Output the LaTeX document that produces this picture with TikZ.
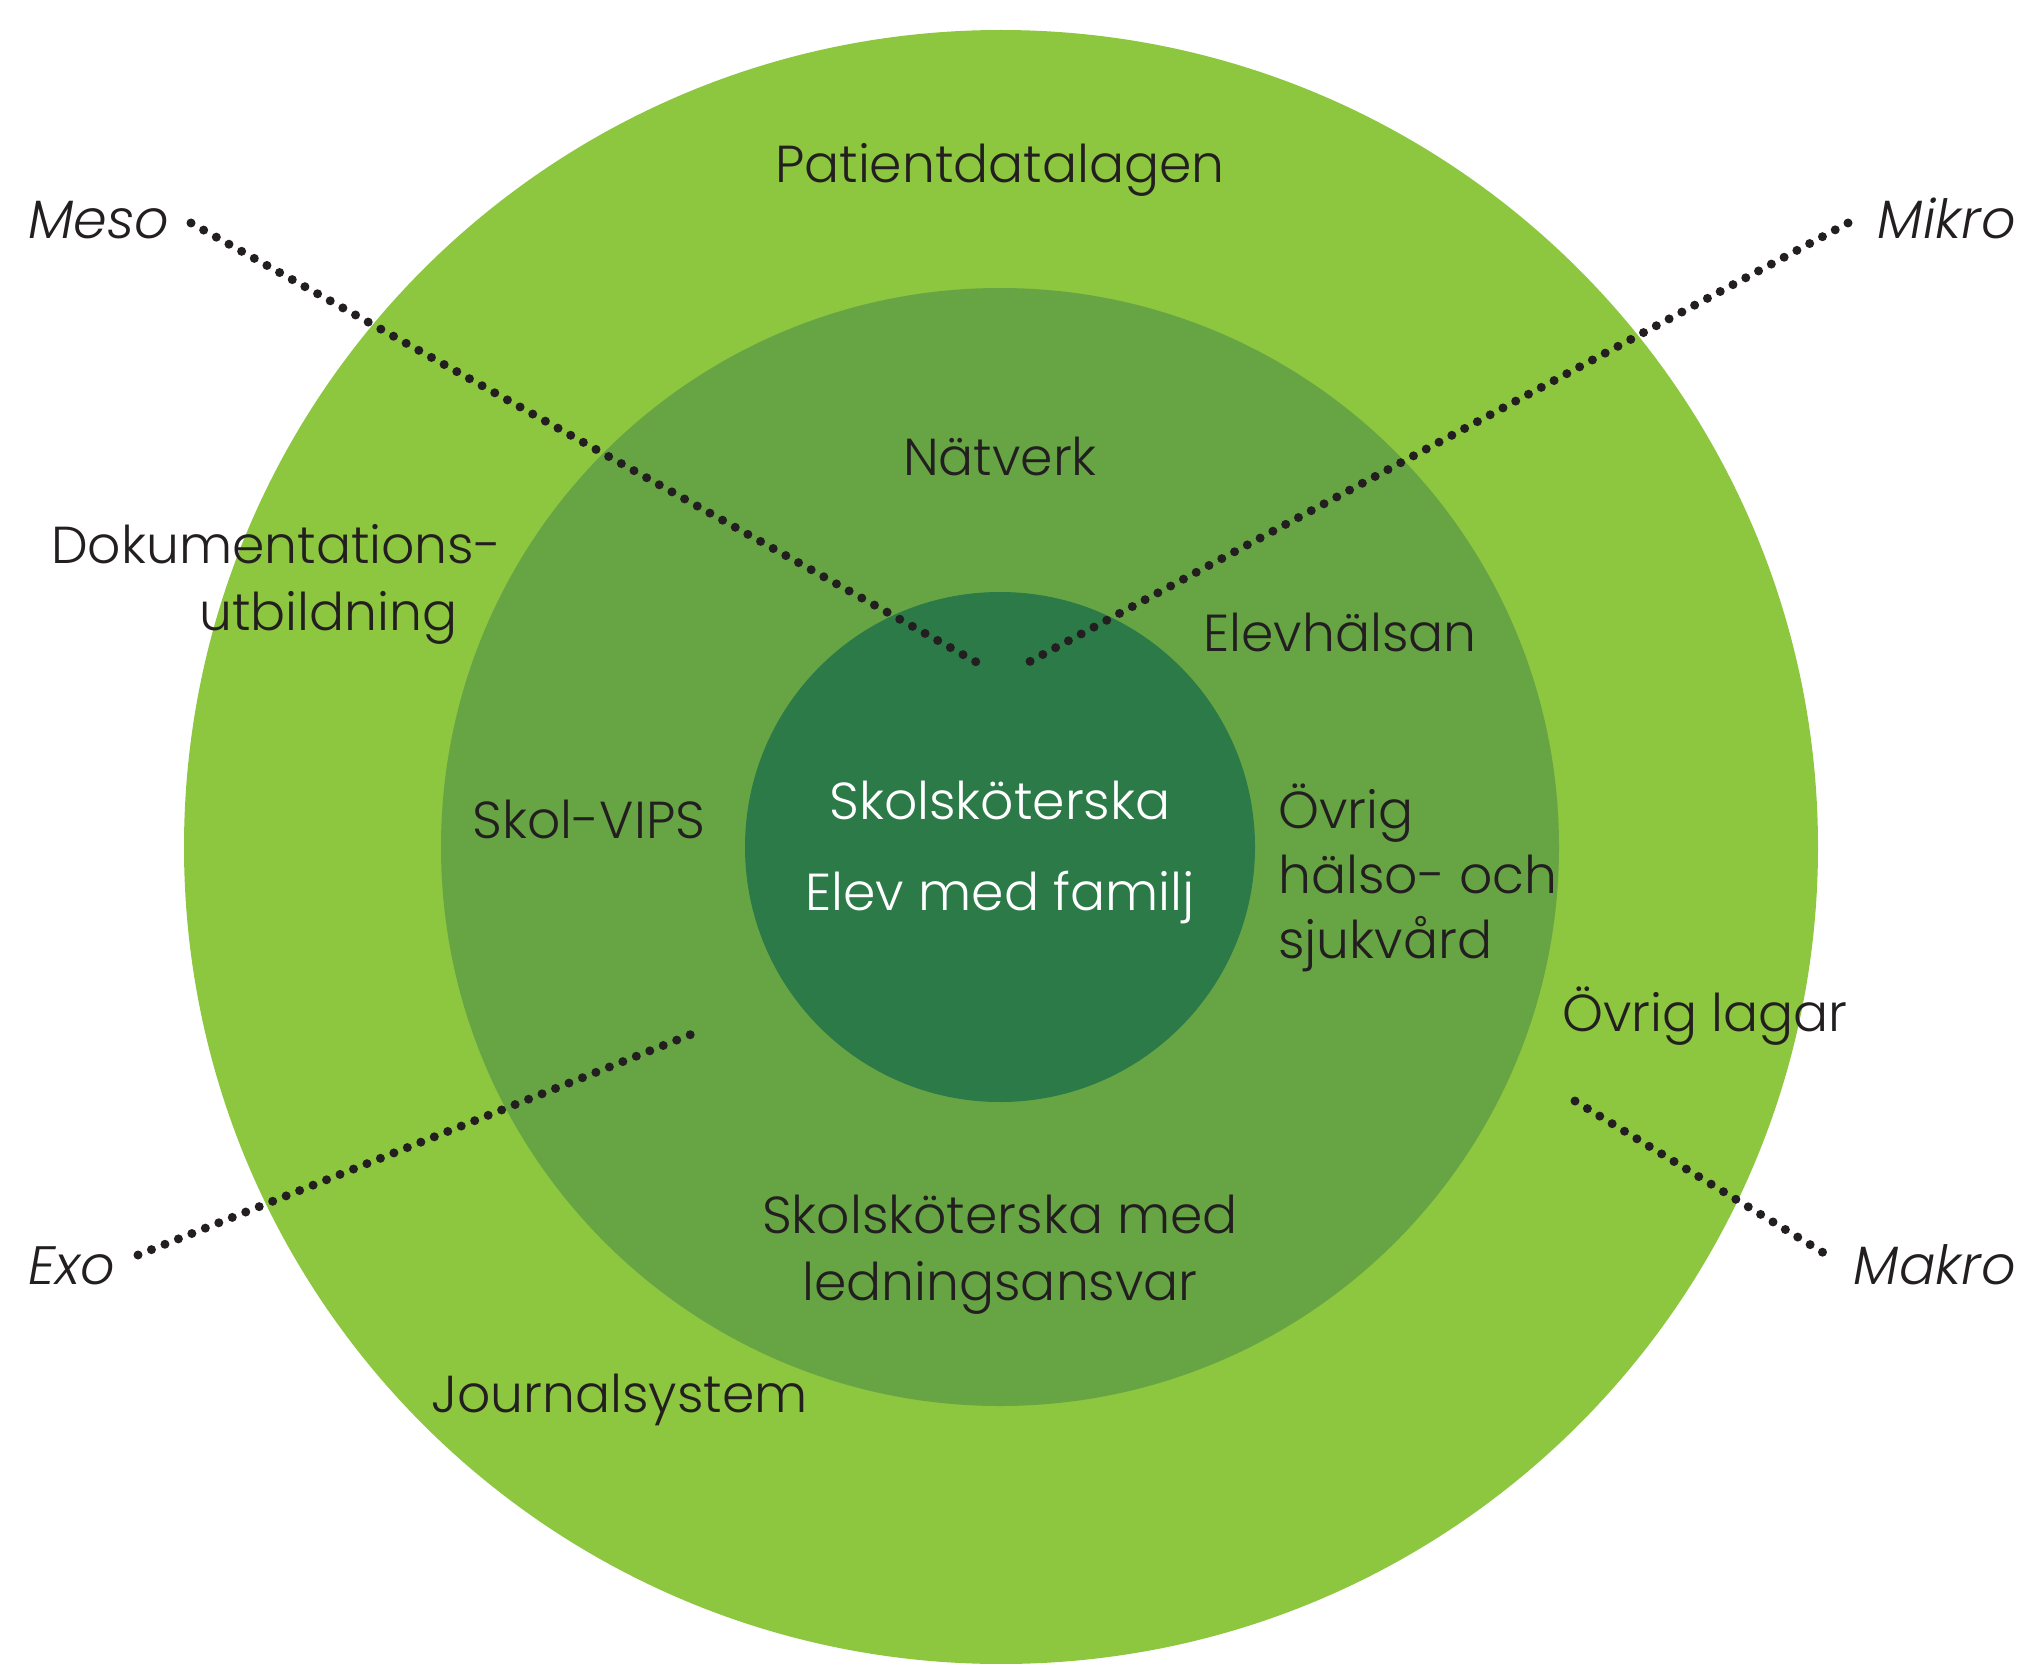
\documentclass[tikz,border=0pt]{standalone}
\usepackage{fontspec}
\setmainfont{Poppins}[UprightFont=* Light, ItalicFont=* Light Italic]
\definecolor{outergreen}{HTML}{8DC63F}
\definecolor{midgreen}{HTML}{67A544}
\definecolor{innergreen}{HTML}{2B7A48}
\definecolor{ink}{HTML}{231F20}
\tikzset{
  lbl/.style={inner sep=0pt, text=ink, font=\fontsize{52}{64}\selectfont},
  ital/.style={lbl, font=\fontsize{54}{64}\selectfont\itshape},
  wlbl/.style={lbl, text=white},
  dots/.style={ink, line width=9pt, line cap=round, dash pattern=on 0pt off 14.5pt},
}
\begin{document}
\begin{tikzpicture}[x=1pt,y=-1pt]
\useasboundingbox (0,0) rectangle (2029,1664);
% circles
\fill[outergreen] (1001,847) circle (817);
\fill[midgreen] (1000,847) circle (559);
\fill[innergreen] (1000,847) circle (255);
% connector end points
\coordinate (mesoA) at (191,223);
\coordinate (mesoB) at (978,663);
\coordinate (mikroA) at (1848,223);
\coordinate (mikroB) at (1027,663);
\coordinate (exoA) at (138,1255);
\coordinate (exoB) at (692,1034);
\coordinate (makroA) at (1575,1101);
\coordinate (makroB) at (1832,1258);
\draw[dots] (mesoA) -- (mesoB);
\draw[dots] (mikroA) -- (mikroB);
\draw[dots] (exoA) -- (exoB);
\draw[dots] (makroA) -- (makroB);
% labels
\node[ital, anchor=base west] (meso) at (28,239) {Meso};
\node[ital, anchor=base east] (mikro) at (2016,239) {Mikro};
\node[ital, anchor=base west] (exo) at (28,1284) {Exo};
\node[ital, anchor=base east] (makro) at (2016,1284) {Makro};
\node[lbl, anchor=base] (patient) at (1000,183) {Patientdatalagen};
\node[lbl, anchor=base] (natverk) at (1000,475) {Nätverk};
\node[lbl, anchor=base west] (dok1) at (51,563) {Dokumentations-};
\node[lbl, anchor=base west] (dok2) at (199,630) {utbildning};
\node[lbl, anchor=base] (elevh) at (1340,651) {Elevhälsan};
\node[lbl, anchor=base] (vips) at (589,838) {Skol-VIPS};
\node[wlbl, anchor=base] (skol) at (1000,819) {Skolsköterska};
\node[wlbl, anchor=base] (elev) at (1000,910) {Elev med familj};
\node[lbl, anchor=base west] (ovr1) at (1278,828) {Övrig};
\node[lbl, anchor=base west] (ovr2) at (1278,893) {hälso- och};
\node[lbl, anchor=base west] (ovr3) at (1278,958) {sjukvård};
\node[lbl, anchor=base west] (lagar) at (1562,1031) {Övrig lagar};
\node[lbl, anchor=base] (led1) at (1000,1233) {Skolsköterska med};
\node[lbl, anchor=base] (led2) at (1000,1300) {ledningsansvar};
\node[lbl, anchor=base west] (journal) at (431,1412) {Journalsystem};
\end{tikzpicture}
\end{document}
